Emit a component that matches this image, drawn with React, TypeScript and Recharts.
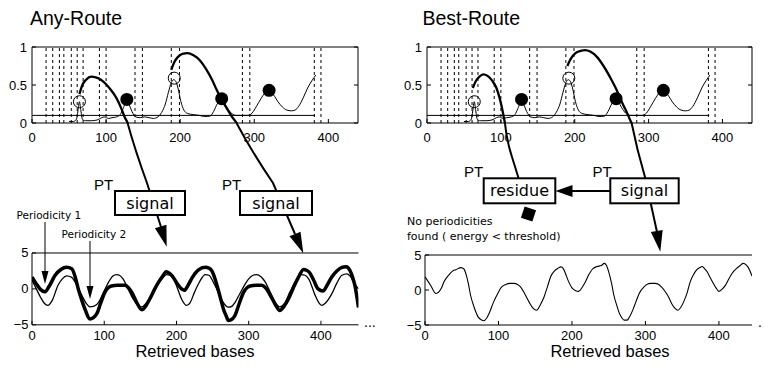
import React from 'react'
import { ComposedChart, Line, Scatter, XAxis, YAxis, ReferenceLine } from 'recharts'

const SANS = '"Liberation Sans", Arial, Helvetica, sans-serif'
const HUMAN = '"DejaVu Sans", Verdana, sans-serif'

type Pt = [number, number]

// periodicity spectrum, same for both routes
const spectrum: Pt[] = [
  [50, 0.02], [56, 0.02], [60, 0.05], [62, 0.16], [64, 0.28], [66, 0.16], [68, 0.05], [72, 0.03],
  [80, 0.03], [88, 0.04], [94, 0.07], [98, 0.08], [103, 0.06], [108, 0.07], [114, 0.08], [119, 0.11],
  [123, 0.19], [127, 0.27], [131, 0.24], [135, 0.15], [140, 0.08], [146, 0.07], [152, 0.08], [158, 0.07],
  [164, 0.06], [170, 0.08], [175, 0.14], [180, 0.25], [184, 0.4], [188, 0.53], [191, 0.57], [194, 0.55],
  [197, 0.46], [201, 0.28], [205, 0.17], [210, 0.125], [218, 0.11], [226, 0.1], [233, 0.085], [240, 0.09],
  [245, 0.15], [250, 0.25], [255, 0.3], [260, 0.26], [265, 0.18], [270, 0.12], [276, 0.1], [284, 0.1],
  [291, 0.1], [297, 0.13], [303, 0.22], [309, 0.32], [315, 0.4], [320, 0.42], [326, 0.37], [332, 0.28],
  [338, 0.21], [344, 0.17], [350, 0.16], [355, 0.17], [360, 0.22], [366, 0.33], [372, 0.46], [378, 0.56],
  [383, 0.63],
]
const threshold = 0.1
const thresholdEnd = 382
const candidates = [19, 28, 37, 43, 53, 61, 69, 91, 100, 139, 149, 188, 199, 284, 294, 381, 390]
const weakPeaks: Pt[] = [[64, 0.28], [192, 0.59]]
const strongPeaks: Pt[] = [[128, 0.31], [256, 0.32], [320, 0.43]]

// thick arcs = start of the PT arrows
const anyArcA: Pt[] = [
  [64, 0.38], [68, 0.5], [73, 0.57], [80, 0.61], [86, 0.6], [93, 0.57], [100, 0.51], [106, 0.44],
  [112, 0.36], [117, 0.27], [121, 0.18], [125, 0.08], [129, 0], [131, -0.06],
]
const anyArcB: Pt[] = [
  [188, 0.7], [192, 0.8], [197, 0.87], [203, 0.91], [210, 0.92], [218, 0.89], [227, 0.82], [235, 0.71],
  [243, 0.57], [250, 0.42], [257, 0.29], [263, 0.19], [270, 0.08], [276, 0], [280, -0.08],
]
const bestArcA: Pt[] = [
  [62, 0.46], [66, 0.55], [71, 0.61], [76, 0.64], [82, 0.62], [88, 0.56], [94, 0.46], [98, 0.34],
  [101, 0.22], [103.5, 0.1], [105.5, 0], [107, -0.08],
]
const bestArcB: Pt[] = [
  [190, 0.75], [195, 0.85], [201, 0.92], [208, 0.95], [214, 0.96], [221, 0.94], [230, 0.87], [239, 0.75],
  [248, 0.6], [255, 0.47], [261, 0.34], [266, 0.23], [271, 0.13], [275, 0.04], [277, 0], [279, -0.05],
]

// retrieved signal (right) and the two periodicities (left)
const signal: Pt[] = [
  [0, 1.9], [8, 0.6], [15, -0.5], [22, 0.2], [26, 1.2], [32, 2.1], [37.5, 2.7], [42, 2.9], [49, 3.2],
  [53, 3.0], [56, 2.2], [59, 0.9], [62, -0.75], [67, -2.5], [72, -3.8], [77, -4.3], [80, -4.4], [84, -4.0],
  [87, -3.4], [93, -1.8], [99, -0.5], [104, 0.4], [110, 0.8], [116, 0.95], [121, 0.95], [126, 0.8],
  [130, 0.45], [136, -0.6], [142, -1.8], [147, -2.6], [152, -2.9], [157, -2.1], [162, -1.0], [167, 0.6],
  [171, 1.9], [176, 2.7], [181, 3.1], [185, 3.3], [188, 3.1], [191, 2.4], [195, 1.3], [200, 0.3],
  [205, -0.1], [209, -0.2], [214, 0.4], [218, 1.1], [223, 2.2], [228, 3.0], [234, 3.35], [240, 3.5],
  [244, 3.8], [247, 3.5], [250, 2.6], [254, 0.9], [257, -0.75], [261, -2.2], [264, -3.2], [268, -4.0],
  [271, -4.3], [275, -4.3], [278, -3.9], [283, -2.8], [287, -1.7], [292, -0.4], [298, 0.45], [303, 0.85],
  [307, 0.95], [313, 0.95], [318, 0.8], [322, 0.4], [327, -0.25], [332, -1.1], [336, -2.0], [340, -2.6],
  [344, -2.9], [348, -2.5], [352, -1.7], [357, -0.3], [361, 1.2], [366, 2.3], [370, 2.9], [374, 3.2],
  [377, 3.35], [380, 3.1], [384, 2.6], [388, 1.8], [391, 1.2], [396, 0.3], [400, -0.2], [404, 0.1],
  [409, 0.7], [413, 1.5], [418, 2.4], [424, 3.1], [429, 3.5], [433, 3.8], [437, 3.6], [440, 3.2], [445, 2.0],
]
const periodicity1: Pt[] = [
  [0, 1.65], [6, 0.7], [12, -0.1], [18, -0.4], [24, 0.4], [32, 1.9], [40, 2.7], [48, 3.0], [55, 2.8],
  [60, 1.6], [64, 0], [69, -1.6], [74, -3.0], [80, -4.2], [85, -4.0], [90, -3.4], [95, -2.0], [101, -0.45],
  [106, 0.2], [110, 0.4], [118, 0.5], [125, 0.5], [129, 0.5], [134, 0.1], [138, -0.45], [145, -1.9],
  [152, -2.9], [158, -2.3], [163, -1.4], [170, 0], [175, 0.9], [180, 1.65], [186, 2.4], [190, 2.2],
  [194, 1.8], [200, 0.9], [207, 0], [211, -0.2], [216, 0.5], [222, 1.6], [230, 2.6], [240, 3.0],
  [245, 2.9], [249, 2.5], [254, 1.2], [258, -0.2], [262, -1.7], [265, -2.8], [269, -3.8], [272, -4.4],
  [277, -4.2], [281, -3.7], [287, -2.0], [293, -0.45], [298, 0.2], [302, 0.4], [310, 0.5], [318, 0.5],
  [323, 0.2], [330, -0.9], [337, -2.2], [343, -3.0], [349, -2.4], [355, -1.4], [362, 0.2], [369, 1.65],
  [376, 2.7], [380, 2.6], [384, 2.3], [390, 1.2], [396, 0], [403, -0.3], [409, 0.6], [415, 1.65],
  [422, 2.5], [429, 3.0], [435, 3.1], [440, 2.6], [444, 1.6], [447, 0.5], [452, -2.6],
]
const periodicity2: Pt[] = [
  [0, 1.2], [6, 0], [12, -1.2], [17, -2.0], [22, -2.3], [28, -1.6], [36, 0.5], [42, 1.4], [48, 1.8],
  [55, 1.6], [62, 0.5], [69, -0.9], [75, -2.0], [80, -2.5], [86, -2.4], [92, -1.9], [99, -0.5], [106, 0.95],
  [112, 1.8], [117, 2.0], [121, 1.9], [126, 1.4], [133, 0], [140, -1.4], [146, -2.2], [152, -2.5],
  [158, -2.0], [163, -1.3], [168, -0.45], [174, 0.6], [180, 1.4], [186, 2.0], [191, 1.9], [196, 1.4],
  [201, 0.2], [207, -1.4], [214, -2.3], [219, -1.9], [225, -0.45], [232, 1.0], [240, 2.0], [245, 1.9],
  [251, 0.95], [257, -0.3], [263, -1.6], [268, -2.3], [272, -2.55], [277, -2.4], [281, -1.9], [288, -0.6],
  [294, 0.5], [300, 1.4], [306, 1.9], [311, 2.0], [317, 1.7], [323, 0.95], [330, -0.5], [337, -1.9],
  [343, -2.5], [349, -2.1], [357, -0.45], [365, 1.1], [373, 2.0], [378, 1.9], [383, 1.4], [392, -0.9],
  [397, -1.9], [401, -2.3], [406, -2.0], [415, -0.7], [422, 0.8], [429, 1.9], [436, 2.1], [441, 1.7],
  [445, 0.95], [452, 0],
]

const xTicks = [0, 100, 200, 300, 400]
const specTicks = [0, 0.5, 1]
const signalTicks = [-5, 0, 5]

type Rect = { left: number; top: number; right: number; bottom: number }
const TL: Rect = { left: 32, top: 47, right: 358, bottom: 123 }
const TR: Rect = { left: 427, top: 47, right: 752, bottom: 123 }
const BL: Rect = { left: 32, top: 252.5, right: 358.5, bottom: 324.3 }
const BR: Rect = { left: 425, top: 255, right: 752, bottom: 325 }
const TOP_X: [number, number] = [0, 440]
const BL_X: [number, number] = [0, 452]
const BR_X: [number, number] = [0, 445]

const ML = 40, MR = 20, MT = 20, MB = 30

const rows = (pts: Pt[]) => pts.map(([x, y]) => ({ x, y }))
const label = (v: number) => (v < 0 ? '\u2212' + Math.abs(v) : String(v))

// pixel x of a data value on a panel (used only to join overlay arrows to the arcs)
const px = (r: Rect, d: [number, number], v: number) => r.left + ((v - d[0]) / (d[1] - d[0])) * (r.right - r.left)
const zeroCross = (pts: Pt[]) => {
  for (let i = 1; i < pts.length; i++) {
    const [x0, y0] = pts[i - 1]
    const [x1, y1] = pts[i]
    if (y0 >= 0 && y1 <= 0) return y0 === y1 ? x0 : x0 + ((x1 - x0) * y0) / (y0 - y1)
  }
  return pts[pts.length - 1][0]
}

const bottomTick = (dy: number) => (p: any) => (
  <g>
    <line x1={p.x} y1={p.y} x2={p.x} y2={p.y - 4} stroke="#000" />
    <text x={p.x} y={p.y + dy} textAnchor="middle" fontSize={13} fontFamily={SANS} fill="#000">
      {label(p.payload.value)}
    </text>
  </g>
)
const leftTick = (dx: number) => (p: any) => (
  <g>
    <line x1={p.x} y1={p.y} x2={p.x + 4} y2={p.y} stroke="#000" />
    <text x={p.x - dx} y={p.y + 4.5} textAnchor="end" fontSize={13} fontFamily={SANS} fill="#000">
      {label(p.payload.value)}
    </text>
  </g>
)
const topTick = (p: any) => <line x1={p.x} y1={p.y} x2={p.x} y2={p.y + 4} stroke="#000" />
const rightTick = (p: any) => <line x1={p.x} y1={p.y} x2={p.x - 4} y2={p.y} stroke="#000" />

const OpenDot = (p: any) => <circle cx={p.cx} cy={p.cy} r={6} fill="none" stroke="#000" strokeWidth={1} />
const FullDot = (p: any) => <circle cx={p.cx} cy={p.cy} r={6.5} fill="#000" />

function SpectrumPanel({ r, arcs }: { r: Rect; arcs: Pt[][] }) {
  const w = r.right - r.left + ML + MR
  const h = r.bottom - r.top + MT + MB
  return (
    <div style={{ position: 'absolute', left: r.left - ML, top: r.top - MT, width: w, height: h }}>
      <ComposedChart width={w} height={h} margin={{ left: ML - 1, right: MR - 1, top: MT - 1, bottom: MB - 1 }}>
        <XAxis type="number" dataKey="x" domain={TOP_X} allowDataOverflow ticks={xTicks} interval={0}
          height={1} tickSize={0} tickMargin={0} tickLine={false} stroke="#000" tick={bottomTick(18.5)} />
        <XAxis xAxisId="top" orientation="top" type="number" domain={TOP_X} allowDataOverflow ticks={xTicks}
          interval={0} height={1} tickSize={0} tickMargin={0} tickLine={false} stroke="#000" tick={topTick} />
        <YAxis type="number" dataKey="y" domain={[0, 1]} allowDataOverflow ticks={specTicks} interval={0}
          width={1} tickSize={0} tickMargin={0} tickLine={false} stroke="#000" tick={leftTick(5)} />
        <YAxis yAxisId="right" orientation="right" type="number" domain={[0, 1]} allowDataOverflow
          ticks={specTicks} interval={0} width={1} tickSize={0} tickMargin={0} tickLine={false} stroke="#000"
          tick={rightTick} />
        {candidates.map((c) => (
          <ReferenceLine key={c} x={c} stroke="#000" strokeWidth={1} strokeDasharray="3 3" />
        ))}
        <ReferenceLine segment={[{ x: 0, y: threshold }, { x: thresholdEnd, y: threshold }]} stroke="#000" strokeWidth={1} />
        <Line data={rows(spectrum)} dataKey="y" type="monotone" stroke="#000" strokeWidth={1} dot={false}
          isAnimationActive={false} />
        <Scatter data={rows(weakPeaks)} shape={OpenDot} isAnimationActive={false} />
        <Scatter data={rows(strongPeaks)} shape={FullDot} isAnimationActive={false} />
        {arcs.map((a, i) => (
          <Line key={i} data={rows(a)} dataKey="y" type="monotone" stroke="#000" strokeWidth={2.3} dot={false}
            isAnimationActive={false} />
        ))}
      </ComposedChart>
    </div>
  )
}

function SignalPanel({ r, domain, series }: { r: Rect; domain: [number, number]; series: { pts: Pt[]; w: number }[] }) {
  const w = r.right - r.left + ML + MR
  const h = r.bottom - r.top + MT + MB
  return (
    <div style={{ position: 'absolute', left: r.left - ML, top: r.top - MT, width: w, height: h }}>
      <ComposedChart width={w} height={h} margin={{ left: ML - 1, right: MR, top: MT - 1, bottom: MB - 1 }}>
        <XAxis type="number" dataKey="x" domain={domain} allowDataOverflow ticks={xTicks} interval={0}
          height={1} tickSize={0} tickMargin={0} tickLine={false} stroke="#000" tick={bottomTick(15)} />
        <XAxis xAxisId="top" orientation="top" type="number" domain={domain} allowDataOverflow ticks={xTicks}
          interval={0} height={1} tickSize={0} tickMargin={0} tickLine={false} stroke="#000" tick={topTick} />
        <YAxis type="number" dataKey="y" domain={[-5, 5]} allowDataOverflow ticks={signalTicks} interval={0}
          width={1} tickSize={0} tickMargin={0} tickLine={false} stroke="#000" tick={leftTick(3.5)} />
        {series.map((s, i) => (
          <Line key={i} data={rows(s.pts)} dataKey="y" type="monotone" stroke="#000" strokeWidth={s.w}
            dot={false} isAnimationActive={false} />
        ))}
      </ComposedChart>
    </div>
  )
}

function head(tx: number, ty: number, dx: number, dy: number, len: number, hw: number) {
  const n = Math.hypot(dx, dy)
  const ux = dx / n, uy = dy / n
  const bx = tx - ux * len, by = ty - uy * len
  return `${tx},${ty} ${bx - uy * hw},${by + ux * hw} ${bx + uy * hw},${by - ux * hw}`
}

function Box({ x, y, w, h, text }: { x: number; y: number; w: number; h: number; text: string }) {
  return (
    <g>
      <rect x={x} y={y} width={w} height={h} fill="#fff" stroke="#000" strokeWidth={2} />
      <text x={x + w / 2} y={y + h / 2 + 5.5} textAnchor="middle" fontSize={16} fontFamily={HUMAN}>{text}</text>
    </g>
  )
}

function Overlay() {
  const a1 = px(TL, TOP_X, zeroCross(anyArcA))
  const a2 = px(TL, TOP_X, zeroCross(anyArcB))
  const b1 = px(TR, TOP_X, zeroCross(bestArcA))
  const b2 = px(TR, TOP_X, zeroCross(bestArcB))
  const line = { fill: 'none', stroke: '#000', strokeWidth: 2 }
  return (
    <svg width={764} height={367} style={{ position: 'absolute', left: 0, top: 0 }}>
      <text x={30} y={25} fontSize={19.5} fontFamily={SANS}>Any-Route</text>
      <text x={422.5} y={25} fontSize={19.5} fontFamily={SANS}>Best-Route</text>
      <text x={195} y={357} textAnchor="middle" fontSize={16.5} fontFamily={SANS}>Retrieved bases</text>
      <text x={610} y={357} textAnchor="middle" fontSize={16.5} fontFamily={SANS}>Retrieved bases</text>

      {/* arrows leaving the spectra */}
      <path d={`M${a1},${TL.bottom} Q135,150 147,183 L161,227`} {...line} />
      <polygon points={head(166.7, 246.7, 10, 33.4, 21, 6)} fill="#000" />
      <path d={`M${a2},${TL.bottom} Q252,152 273,183 L295,234`} {...line} />
      <polygon points={head(303.3, 253.3, 30, 70, 21, 6)} fill="#000" />
      <path d={`M${b1},${TR.bottom} Q507,142 512,157 L521,186`} {...line} />
      <path d={`M${b2},${TR.bottom} Q637,150 645,177 L657,232`} {...line} />
      <polygon points={head(660.3, 251.7, 8.3, 48.4, 21, 6)} fill="#000" />

      {/* residue <- signal */}
      <line x1={612} y1={191} x2={570} y2={191} stroke="#000" strokeWidth={2} />
      <polygon points={head(555.5, 191, -1, 0, 17, 6)} fill="#000" />
      <rect x={522.5} y={208} width={12} height={12} fill="#000" transform="rotate(18 528.5 214)" />

      <Box x={115} y={191} w={70} h={24} text="signal" />
      <Box x={240} y={191} w={72} h={24} text="signal" />
      <Box x={483.7} y={178.3} w={71.6} h={25} text="residue" />
      <Box x={610.3} y={178.3} w={68.4} h={25} text="signal" />

      <text x={94} y={190} fontSize={15} fontFamily={SANS}>PT</text>
      <text x={222} y={190} fontSize={15} fontFamily={SANS}>PT</text>
      <text x={464} y={177} fontSize={15} fontFamily={SANS}>PT</text>
      <text x={592.5} y={177} fontSize={15} fontFamily={SANS}>PT</text>

      <text x={407} y={225} fontSize={11} fontFamily={HUMAN}>No periodicities</text>
      <text x={407} y={240} fontSize={11} fontFamily={HUMAN}>found ( energy &lt; threshold)</text>

      {/* periodicity pointers */}
      <text x={16.5} y={219} fontSize={10.5} fontFamily={HUMAN}>Periodicity 1</text>
      <line x1={45} y1={222} x2={45} y2={272} stroke="#000" strokeWidth={1} />
      <polygon points={head(45, 284, 0, 1, 13, 3.5)} fill="#000" />
      <text x={61.5} y={238} fontSize={10.5} fontFamily={HUMAN}>Periodicity 2</text>
      <line x1={90} y1={241} x2={90} y2={287} stroke="#000" strokeWidth={1} />
      <polygon points={head(90, 299, 0, 1, 13, 3.5)} fill="#000" />

      <text x={364} y={327} fontSize={14} fontFamily={SANS}>...</text>
      <text x={758} y={327} fontSize={14} fontFamily={SANS}>.</text>
    </svg>
  )
}

export default function App() {
  return (
    <div style={{ position: 'absolute', left: 0, top: 0, width: 764, height: 367, background: '#fff', overflow: 'hidden' }}>
      <SpectrumPanel r={TL} arcs={[anyArcA, anyArcB]} />
      <SpectrumPanel r={TR} arcs={[bestArcA, bestArcB]} />
      <SignalPanel r={BL} domain={BL_X} series={[{ pts: periodicity2, w: 1.3 }, { pts: periodicity1, w: 3.5 }]} />
      <SignalPanel r={BR} domain={BR_X} series={[{ pts: signal, w: 1.1 }]} />
      <Overlay />
    </div>
  )
}
